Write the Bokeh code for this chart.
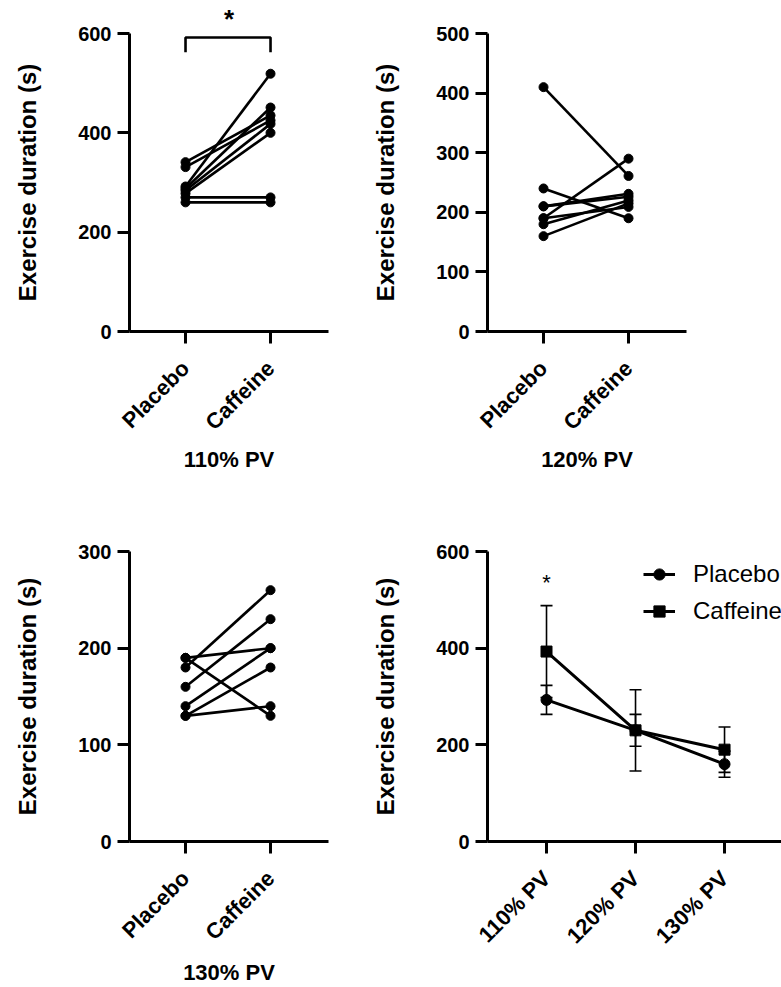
import numpy as np
from bokeh.plotting import figure
from bokeh.layouts import column, row
from bokeh.models import (Range1d, FixedTicker, Label, Legend, LegendItem,
                          Whisker, ColumnDataSource, TeeHead)
from bokeh.embed import file_html
from bokeh.resources import INLINE

FONT = "Liberation Sans"

# ---------------- data ----------------
conditions = ["Placebo", "Caffeine"]
pv_levels = ["110% PV", "120% PV", "130% PV"]

placebo_110 = [341, 331, 292, 288, 284, 278, 270, 260]
caffeine_110 = [435, 425, 519, 451, 418, 400, 270, 260]

placebo_120 = [410, 240, 210, 210, 190, 190, 180, 160]
caffeine_120 = [261, 190, 231, 226, 290, 209, 220, 215]

placebo_130 = [190, 190, 180, 160, 140, 130, 130]
caffeine_130 = [200, 130, 260, 230, 200, 180, 140]

placebo_mean = [293, 230, 160]
placebo_sd = [30, 84, 27]
caffeine_mean = [393, 230, 190]
caffeine_sd = [95, 33, 47]

sig_bracket_low = 562
sig_bracket_top = 592
sig_star_means = 535

yticks_110 = [0, 200, 400, 600]
yticks_120 = [0, 100, 200, 300, 400, 500]
yticks_130 = [0, 100, 200, 300]
yticks_means = [0, 200, 400, 600]

y_label = "Exercise duration (s)"


def make_fig(width, height, left, right, top, bottom, x_start, x_end, y_top, yticks):
    p = figure(width=width, height=height,
               x_range=Range1d(x_start, x_end), y_range=Range1d(0, y_top),
               output_backend="svg", toolbar_location=None,
               min_border_left=left, min_border_right=right,
               min_border_top=top, min_border_bottom=bottom)
    p.outline_line_color = None
    p.xgrid.grid_line_color = None
    p.ygrid.grid_line_color = None
    p.background_fill_color = "white"
    p.border_fill_color = "white"
    for ax in (p.xaxis, p.yaxis):
        ax.axis_line_width = 3
        ax.axis_line_color = "black"
        ax.major_tick_line_width = 3
        ax.major_tick_line_color = "black"
        ax.major_tick_out = 12
        ax.major_tick_in = 0
        ax.minor_tick_line_color = None
        ax.major_label_text_font = FONT
        ax.major_label_text_font_style = "bold"
        ax.major_label_text_color = "black"
        ax.axis_label_text_font = FONT
        ax.axis_label_text_font_style = "bold"
        ax.axis_label_text_color = "black"
    p.yaxis.ticker = FixedTicker(ticks=yticks)
    p.yaxis.axis_label = y_label
    p.yaxis.major_label_text_font_size = "20px"
    p.yaxis.axis_label_text_font_size = "24px"
    p.yaxis.major_label_standoff = 6
    p.yaxis.axis_label_standoff = 34
    p.xaxis.major_label_text_font_size = "22px"
    p.xaxis.major_label_orientation = np.pi / 4
    p.xaxis.major_label_standoff = 21
    p.xaxis.axis_label_text_font_size = "22px"
    return p


def paired(p, pl, cf, title, standoff):
    xs = [[0, 1] for _ in pl]
    ys = [[a, b] for a, b in zip(pl, cf)]
    p.multi_line(xs, ys, line_color="black", line_width=2.6)
    p.scatter([0] * len(pl), pl, size=9, color="black")
    p.scatter([1] * len(cf), cf, size=9, color="black")
    p.xaxis.ticker = FixedTicker(ticks=[0, 1])
    p.xaxis.major_label_overrides = {i: c for i, c in enumerate(conditions)}
    p.xaxis.axis_label = title
    p.xaxis.axis_label_standoff = standoff


x0, x1 = -0.659, 1.682

pA = make_fig(366, 540, 129, 38, 33, 209, x0, x1, 600, yticks_110)
paired(pA, placebo_110, caffeine_110, pv_levels[0], 0)
pA.line([0, 0, 1, 1], [sig_bracket_low, sig_bracket_top, sig_bracket_top, sig_bracket_low],
        line_color="black", line_width=2.6)
pA.title.text = "*"
pA.title.align = "center"
pA.title.text_font = FONT
pA.title.text_font_style = "bold"
pA.title.text_font_size = "26px"
pA.title.text_color = "black"
pA.title.standoff = 0

pB = make_fig(415, 540, 121, 95, 33, 209, x0, x1, 500, yticks_120)
paired(pB, placebo_120, caffeine_120, pv_levels[1], 0)

pC = make_fig(366, 447, 129, 38, 11, 139, x0, x1, 300, yticks_130)
paired(pC, placebo_130, caffeine_130, pv_levels[2], 3)

pD = make_fig(415, 447, 121, 0, 11, 139, -0.663, 2.640, 600, yticks_means)
xi = list(range(len(pv_levels)))
pD.xaxis.ticker = FixedTicker(ticks=xi)
pD.xaxis.major_label_overrides = {i: t for i, t in enumerate(pv_levels)}

src_p = ColumnDataSource(dict(x=xi, m=placebo_mean,
                              lo=[m - s for m, s in zip(placebo_mean, placebo_sd)],
                              hi=[m + s for m, s in zip(placebo_mean, placebo_sd)]))
src_c = ColumnDataSource(dict(x=xi, m=caffeine_mean,
                              lo=[m - s for m, s in zip(caffeine_mean, caffeine_sd)],
                              hi=[m + s for m, s in zip(caffeine_mean, caffeine_sd)]))
for src in (src_p, src_c):
    w = Whisker(source=src, base="x", lower="lo", upper="hi", line_width=1.6,
                line_color="black",
                upper_head=TeeHead(size=12, line_width=1.6, line_color="black"),
                lower_head=TeeHead(size=12, line_width=1.6, line_color="black"))
    pD.add_layout(w)

lp = pD.line("x", "m", source=src_p, line_color="black", line_width=3)
sp = pD.scatter("x", "m", source=src_p, marker="circle", size=11, color="black")
lc = pD.line("x", "m", source=src_c, line_color="black", line_width=3)
sc = pD.scatter("x", "m", source=src_c, marker="square", size=11, color="black")

pD.add_layout(Label(x=0, y=sig_star_means, text="*", text_align="center",
                    text_baseline="middle", text_font=FONT,
                    text_font_size="22px", text_color="black"))

legend = Legend(items=[LegendItem(label="Placebo", renderers=[lp, sp]),
                       LegendItem(label="Caffeine", renderers=[lc, sc])],
                location=(156, 216))
legend.label_text_font = FONT
legend.label_text_font_size = "24px"
legend.label_text_color = "black"
legend.glyph_width = 32
legend.glyph_height = 28
legend.label_standoff = 18
legend.spacing = 9
legend.padding = 0
legend.margin = 0
legend.border_line_color = None
legend.background_fill_alpha = 0
pD.add_layout(legend)

layout = column(row(pA, pB), row(pC, pD))

open("out.html", "w").write(file_html(layout, INLINE))
